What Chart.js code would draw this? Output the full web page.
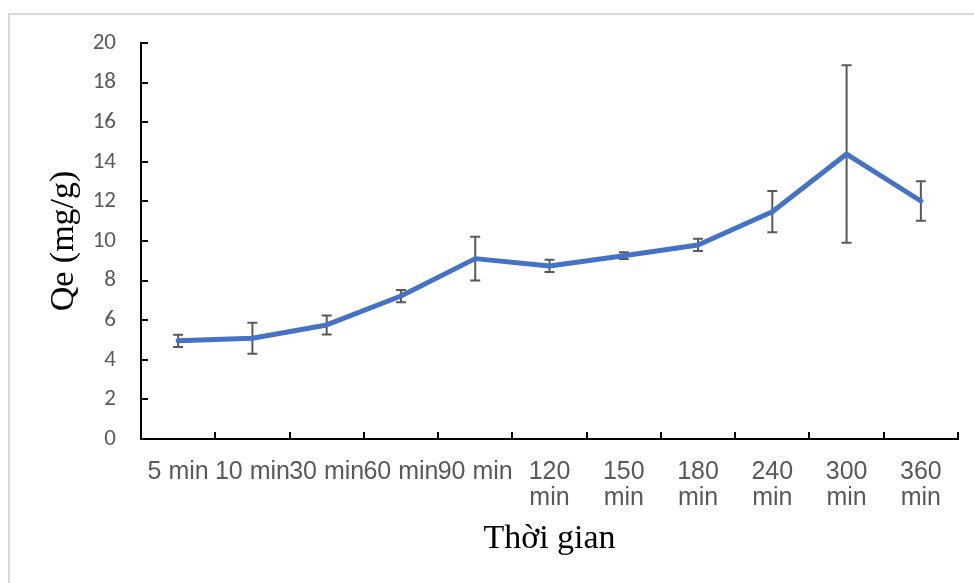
<!DOCTYPE html>
<html>
<head>
<meta charset="utf-8">
<script src="https://cdn.jsdelivr.net/npm/chart.js@4.4.1/dist/chart.umd.min.js"></script>
<style>
html,body{margin:0;padding:0;background:#fff;}
#wrap{position:relative;width:974px;height:583px;}
</style>
</head>
<body>
<div id="wrap"><canvas id="c" width="974" height="583"></canvas></div>
<script>
// ---- data ----
const categories = ['5 min','10 min','30 min','60 min','90 min','120 min','150 min','180 min','240 min','300 min','360 min'];
const qeMean  = [4.96, 5.09, 5.76, 7.22, 9.11, 8.74, 9.26, 9.80, 11.48, 14.39, 12.02];
const qeError = [0.31, 0.78, 0.48, 0.31, 1.10, 0.31, 0.17, 0.31, 1.04, 4.48, 1.00];
const yMin = 0, yMax = 20, yStep = 2;
const xTitle = 'Thời gian';
const yTitle = 'Qe (mg/g)';

// ---- plugins ----
const framePlugin = {
  id: 'frame',
  beforeDraw(chart) {
    const ctx = chart.ctx;
    ctx.save();
    ctx.fillStyle = '#ffffff';
    ctx.fillRect(0, 0, chart.width, chart.height);
    ctx.strokeStyle = '#d9d9d9';
    ctx.lineWidth = 2;
    ctx.beginPath();
    ctx.moveTo(9, chart.height);
    ctx.lineTo(9, 14);
    ctx.lineTo(chart.width, 14);
    ctx.stroke();
    ctx.restore();
  }
};

const errorBarPlugin = {
  id: 'errorBars',
  beforeDatasetsDraw(chart) {
    const {ctx, scales: {x, y}} = chart;
    ctx.save();
    ctx.strokeStyle = '#595959';
    ctx.lineWidth = 2;
    ctx.beginPath();
    qeMean.forEach((m, i) => {
      const px = x.getPixelForValue(i);
      const top = y.getPixelForValue(m + qeError[i]);
      const bot = y.getPixelForValue(m - qeError[i]);
      const cap = 5;
      ctx.moveTo(px, top); ctx.lineTo(px, bot);
      ctx.moveTo(px - cap, top); ctx.lineTo(px + cap, top);
      ctx.moveTo(px - cap, bot); ctx.lineTo(px + cap, bot);
    });
    ctx.stroke();
    ctx.restore();
  }
};

const innerTicksPlugin = {
  id: 'innerTicks',
  afterDraw(chart) {
    const {ctx, scales: {x, y}} = chart;
    ctx.save();
    ctx.strokeStyle = '#000000';
    ctx.lineWidth = 2;
    ctx.beginPath();
    y.ticks.forEach((t, i) => {
      const py = Math.round(y.getPixelForTick(i));
      ctx.moveTo(x.left - 1, py);
      ctx.lineTo(x.left + 7, py);
    });
    for (let i = 0; i <= categories.length; i++) {
      const px = Math.round(x.getPixelForValue(i - 0.5));
      ctx.moveTo(px, y.bottom + 1);
      ctx.lineTo(px, y.bottom - 7);
    }
    ctx.stroke();
    ctx.restore();
  }
};

new Chart(document.getElementById('c'), {
  type: 'line',
  data: {
    labels: categories,
    datasets: [{
      data: qeMean,
      borderColor: '#4472C4',
      borderWidth: 5,
      pointRadius: 0,
      tension: 0,
      fill: false,
      borderCapStyle: 'round',
      borderJoinStyle: 'round'
    }]
  },
  options: {
    responsive: false,
    devicePixelRatio: 1,
    animation: false,
    layout: { padding: { top: 43, right: 16, left: 0, bottom: 0 } },
    plugins: { legend: { display: false }, tooltip: { enabled: false } },
    scales: {
      x: {
        offset: true,
        grid: { display: false },
        border: { display: true, color: '#000000', width: 2 },
        ticks: {
          autoSkip: false,
          maxRotation: 0,
          minRotation: 0,
          color: '#595959',
          padding: 12,
          font: { family: "'Liberation Sans Narrow', 'Arial Narrow', 'Liberation Sans', Arial, sans-serif", size: 25, lineHeight: 1.04 },
          callback: (v, i) => {
            const s = categories[i];
            return s.length > 6 ? s.split(' ') : s;
          }
        },
        title: {
          display: true,
          text: xTitle,
          color: '#000000',
          font: { family: "'Liberation Serif', 'Times New Roman', serif", size: 34, lineHeight: 1.2 },
          padding: { top: 0, bottom: 24 }
        },
        afterFit: (s) => { s.height = 144; }
      },
      y: {
        min: yMin,
        max: yMax,
        grid: { display: false },
        border: { display: true, color: '#000000', width: 2 },
        ticks: {
          stepSize: yStep,
          color: '#595959',
          padding: 17,
          font: { family: "Carlito, Calibri, Lato, 'Open Sans', sans-serif", size: 23 }
        },
        title: {
          display: true,
          text: yTitle,
          color: '#000000',
          font: { family: "'Liberation Serif', 'Times New Roman', serif", size: 34, lineHeight: 1.2 },
          padding: { top: 44, bottom: 0 }
        },
        afterFit: (s) => { s.width = 141; }
      }
    }
  },
  plugins: [framePlugin, errorBarPlugin, innerTicksPlugin]
});
</script>
</body>
</html>
